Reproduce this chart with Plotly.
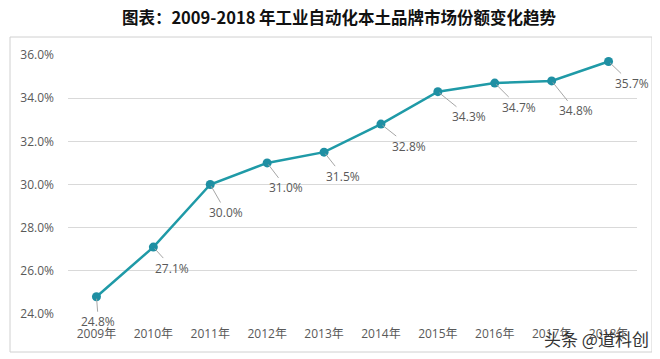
import plotly.graph_objects as go

years = ["2009年", "2010年", "2011年", "2012年", "2013年", "2014年", "2015年", "2016年", "2017年", "2018年"]
share = [24.8, 27.1, 30.0, 31.0, 31.5, 32.8, 34.3, 34.7, 34.8, 35.7]
label_text = ["24.8%", "27.1%", "30.0%", "31.0%", "31.5%", "32.8%", "34.3%", "34.7%", "34.8%", "35.7%"]
label_dx = [2, 19, 16, 19, 19, 28, 31, 24, 24, 23]
label_dy = [25, 21, 28, 25, 24, 22, 25, 24, 30, 22]
y_ticks = [24, 26, 28, 30, 32, 34, 36]
y_tick_text = ["24.0%", "26.0%", "28.0%", "30.0%", "32.0%", "34.0%", "36.0%"]

# page body has an 8px margin, so the figure is drawn 8px smaller and offset
W, H = 652, 351
L, R, T, B = 60, 23, 47, 45
pw, ph = W - L - R, H - T - B

fig = go.Figure()
fig.add_trace(go.Scatter(
    x=years, y=share, mode="lines+markers",
    line=dict(color="#1f9aa7", width=2.5),
    marker=dict(size=9, color="#1f8fa3"),
    cliponaxis=False, showlegend=False, hoverinfo="skip",
))

annotations = []
for yr, v, t, dx, dy in zip(years, share, label_text, label_dx, label_dy):
    annotations.append(dict(
        x=yr, y=v, xref="x", yref="y", text=t, showarrow=True,
        arrowhead=0, arrowwidth=1, arrowcolor="#a6a6a6",
        ax=dx, ay=dy, standoff=2,
        font=dict(family="Open Sans, Noto Sans", size=12, color="#595959"),
    ))

annotations.append(dict(
    x=(588 - L) / pw, y=-(330 - (H - B)) / ph, xref="paper", yref="paper",
    xanchor="center", yanchor="middle",
    text="头条 @道科创", showarrow=False,
    font=dict(family="Noto Sans CJK SC", size=17, color="#333333"),
))

fig.update_layout(
    width=W, height=H,
    margin=dict(l=L, r=R, t=T, b=B),
    paper_bgcolor="white", plot_bgcolor="white",
    title=dict(
        text="<b>图表：2009-2018 年工业自动化本土品牌市场份额变化趋势</b>",
        x=331 / W, xanchor="center", y=1 - 10 / H, yanchor="middle",
        font=dict(family="Noto Sans CJK SC", size=16.5, color="#111111"),
    ),
    xaxis=dict(
        type="category", range=[-0.5, 9.5], showgrid=False, zeroline=False,
        showline=False, ticks="", ticklabelstandoff=11,
        tickfont=dict(family="Open Sans, Noto Sans CJK SC", size=12, color="#595959"),
    ),
    yaxis=dict(
        range=[24, 36], tickvals=y_ticks, ticktext=y_tick_text,
        showgrid=True, gridcolor="#d9d9d9", gridwidth=1, zeroline=False,
        showline=False, ticks="", ticklabelstandoff=13,
        tickfont=dict(family="Open Sans, Noto Sans", size=12, color="#595959"),
    ),
    annotations=annotations,
    shapes=[dict(
        type="rect", xref="paper", yref="paper",
        x0=(2 - L) / pw, x1=(644 - L) / pw,
        y0=-(344 - (H - B)) / ph, y1=(H - B - 29) / ph,
        line=dict(color="#d0d0d0", width=1), fillcolor="rgba(0,0,0,0)",
        layer="below",
    )],
)

fig.write_html("out.html")
